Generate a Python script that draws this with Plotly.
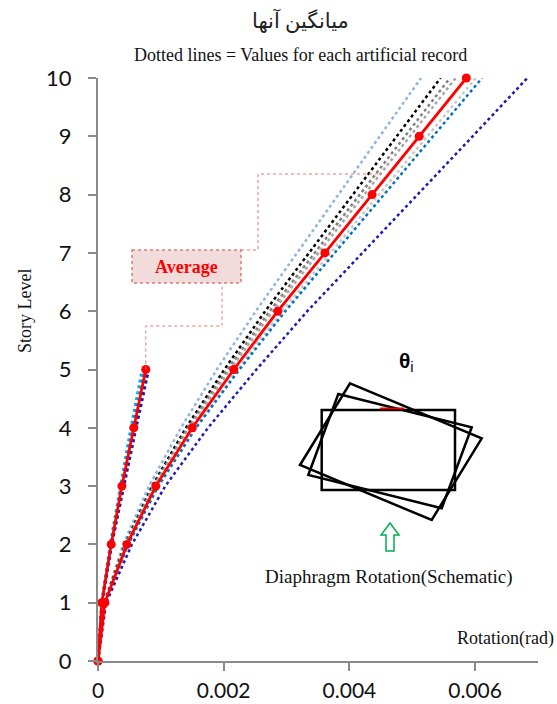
import plotly.graph_objects as go

# ---------------- data ----------------
stories10 = [0, 1, 2, 3, 4, 5, 6, 7, 8, 9, 10]
stories5 = [0, 1, 2, 3, 4, 5]

avg10 = [0, 0.00011, 0.00046, 0.00092, 0.00150, 0.00216, 0.00286, 0.00361, 0.00436, 0.00511, 0.00586]
avg5 = [0, 0.00006, 0.00021, 0.00038, 0.00057, 0.00076]

rec10_lightblue = [0, 0.00010, 0.00040, 0.00081, 0.00132, 0.00189, 0.00251, 0.00317, 0.00382, 0.00448, 0.00514]
rec10_black = [0, 0.00010, 0.00043, 0.00086, 0.00140, 0.00201, 0.00266, 0.00336, 0.00405, 0.00475, 0.00545]
rec10_darkgray = [0, 0.00011, 0.00044, 0.00088, 0.00143, 0.00206, 0.00273, 0.00345, 0.00416, 0.00488, 0.00560]
rec10_gray = [0, 0.00011, 0.00045, 0.00090, 0.00146, 0.00210, 0.00278, 0.00351, 0.00424, 0.00497, 0.00569]
rec10_lightgray = [0, 0.00011, 0.00047, 0.00094, 0.00154, 0.00221, 0.00293, 0.00370, 0.00447, 0.00524, 0.00601]
rec10_blue = [0, 0.00011, 0.00048, 0.00096, 0.00156, 0.00225, 0.00298, 0.00377, 0.00455, 0.00533, 0.00611]
rec10_darkblue = [0, 0.00013, 0.00054, 0.00107, 0.00175, 0.00252, 0.00333, 0.00421, 0.00508, 0.00596, 0.00683]

rec5_sky = [0, 0.000055, 0.00019, 0.00035, 0.00052, 0.00070]
rec5_blue = [0, 0.00006, 0.00020, 0.00037, 0.00055, 0.00074]
rec5_navy = [0, 0.00006, 0.00022, 0.00040, 0.00059, 0.00079]
rec5_darkblue = [0, 0.00007, 0.00022, 0.00041, 0.00061, 0.00081]

x_ticks = [0, 0.002, 0.004, 0.006]
x_tick_labels = ["0", "0.002", "0.004", "0.006"]
y_ticks = list(range(0, 11))

title_text = "میانگین آنها"
subtitle_text = "Dotted lines = Values for each artificial record"

# ---------------- figure ----------------
W, H = 557, 704
L, R, T, B = 98, 19, 78, 43
XMAX, YMAX = 0.007, 10
PW, PH = W - L - R, H - T - B


def px(x):
    return (x - L) / PW * XMAX


def py(y):
    return (H - B - y) / PH * YMAX


fig = go.Figure()

dotted10 = [
    (rec10_lightblue, "#8db4e2"),
    (rec10_black, "#000000"),
    (rec10_darkgray, "#808080"),
    (rec10_gray, "#a6a6a6"),
    (rec10_lightgray, "#c8c8c8"),
    (rec10_blue, "#0070c0"),
    (rec10_darkblue, "#1c1cb0"),
]
for vals, col in dotted10:
    fig.add_trace(go.Scatter(x=vals, y=stories10, mode="lines",
                             line=dict(color=col, width=2.5, dash="dot"),
                             hoverinfo="skip", showlegend=False))

dotted5 = [
    (rec5_sky, "#00b0f0"),
    (rec5_blue, "#2f6fc0"),
    (rec5_navy, "#1f3864"),
    (rec5_darkblue, "#1c1cb0"),
]
for vals, col in dotted5:
    fig.add_trace(go.Scatter(x=vals, y=stories5, mode="lines",
                             line=dict(color=col, width=2.5, dash="dot"),
                             hoverinfo="skip", showlegend=False))

for vals, st in [(avg10, stories10), (avg5, stories5)]:
    fig.add_trace(go.Scatter(x=vals, y=st, mode="lines+markers",
                             line=dict(color="#ff0000", width=2.8),
                             marker=dict(color="#ff0000", size=9),
                             cliponaxis=False, showlegend=False))

shapes = []
conn = dict(color="#f07070", width=1, dash="dot")
# connector from 5-story average top to label box
x5, y5 = avg5[-1], stories5[-1]
shapes.append(dict(type="path", xref="x", yref="y", line=conn,
                   path=f"M {x5},{y5} L {x5},{py(326)} L {px(222)},{py(326)} L {px(222)},{py(283)}"))
# connector from box to 10-story average line
shapes.append(dict(type="path", xref="x", yref="y", line=conn,
                   path=f"M {px(241)},{py(250)} L {px(258)},{py(250)} L {px(258)},{py(174)} L {px(382)},{py(174)}"))
# Average box
shapes.append(dict(type="rect", xref="x", yref="y",
                   x0=px(132), x1=px(241), y0=py(250), y1=py(283),
                   fillcolor="#f2dcdb", line=dict(color="#e07a7a", width=1.5, dash="dot")))


def poly(pts, color="black", width=2.5, fill=None):
    d = "M " + " L ".join(f"{px(a)},{py(b)}" for a, b in pts) + " Z"
    s = dict(type="path", xref="x", yref="y", path=d, line=dict(color=color, width=width))
    if fill:
        s["fillcolor"] = fill
    return s


# schematic rectangles
shapes.append(poly([(321.7, 410), (455, 410), (455, 490), (321.7, 490)]))
shapes.append(poly([(338.3, 394), (471.7, 427.3), (441.7, 508.3), (308.3, 475)]))
shapes.append(poly([(350, 383.3), (481.7, 438.3), (431.7, 520), (300, 465)]))
shapes.append(dict(type="path", xref="x", yref="y",
                   path=f"M {px(380)},{py(408.5)} L {px(404)},{py(408.5)}",
                   line=dict(color="#e00000", width=2)))
# green hollow arrow
shapes.append(poly([(390, 523), (399, 535), (394, 535), (394, 551), (386, 551), (386, 535), (381, 535)],
                   color="#00b050", width=1.5, fill="white"))

fig.update_layout(shapes=shapes)

serif = "Times New Roman, Liberation Serif, DejaVu Serif, serif"
C = dict(xanchor="center", yanchor="middle", showarrow=False)
ann = []
ann.append(dict(text=title_text, xref="paper", yref="paper", x=(300 - L) / PW, y=(H - B - 20) / PH,
                font=dict(family="Times New Roman, DejaVu Sans, serif", size=21, color="#222"), **C))
ann.append(dict(text=subtitle_text, xref="paper", yref="paper", x=(300 - L) / PW, y=(H - B - 55) / PH,
                font=dict(family=serif, size=18, color="#111"), **C))
ann.append(dict(text="Average", xref="x", yref="y", x=px(186.5), y=py(266.5),
                font=dict(family=serif, size=18, color="#ff0000", weight="bold"), **C))
ann.append(dict(text="<b>θ</b><sub>i</sub>", xref="x", yref="y", x=px(406), y=py(362),
                font=dict(family="Arial, Liberation Sans, sans-serif", size=21, color="black"), **C))
ann.append(dict(text="Diaphragm Rotation(Schematic)", xref="x", yref="y", x=px(388), y=py(577),
                font=dict(family=serif, size=19, color="#111"), **C))
ann.append(dict(text="Rotation(rad)", xref="x", yref="y", x=px(505), y=py(638),
                font=dict(family=serif, size=18, color="#111"), **C))
ann.append(dict(text="Story Level", xref="paper", yref="paper", x=(25 - L) / PW, y=(H - B - 311) / PH,
                textangle=-90, font=dict(family=serif, size=18, color="#111"), **C))
fig.update_layout(annotations=ann)

tickfont = dict(family="Lato, Open Sans, sans-serif", size=21, color="#111")
fig.update_layout(
    width=W, height=H,
    margin=dict(l=L, r=R, t=T, b=B, pad=0),
    paper_bgcolor="white", plot_bgcolor="white",
    showlegend=False,
    xaxis=dict(range=[0, XMAX], tickvals=x_ticks, ticktext=x_tick_labels, automargin=False,
               showgrid=False, zeroline=False, showline=True, linecolor="#8a8a8a", linewidth=2,
               ticks="outside", ticklen=8, tickcolor="#8a8a8a", tickwidth=1.5,
               ticklabelstandoff=2, tickfont=tickfont),
    yaxis=dict(range=[0, YMAX], tickvals=y_ticks, automargin=False,
               showgrid=False, zeroline=False, showline=True, linecolor="#8a8a8a", linewidth=2,
               ticks="outside", ticklen=8, tickcolor="#8a8a8a", tickwidth=1.5,
               ticklabelstandoff=12, tickfont=dict(family="Lato, Open Sans, sans-serif", size=22, color="#111")),
)

fig.write_html("out.html")
